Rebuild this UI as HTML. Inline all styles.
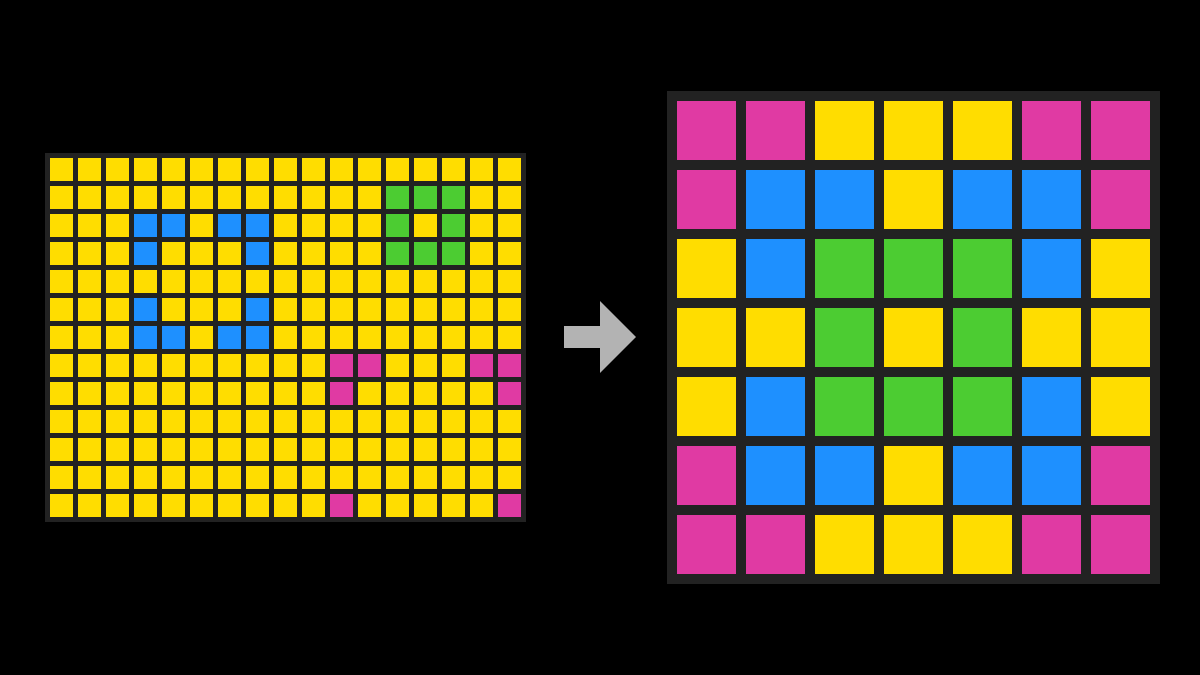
<!DOCTYPE html>
<html><head><meta charset="utf-8"><style>
html,body{margin:0;padding:0;background:#000;width:1200px;height:675px;overflow:hidden}
</style></head><body>
<svg width="1200" height="675" xmlns="http://www.w3.org/2000/svg" id="s">
<rect width="1200" height="675" fill="#000"/>
<rect x="45" y="153" width="481" height="369" fill="#222"/>
<rect x="667" y="91" width="493" height="493" fill="#222"/>
<polygon points="564,326 600,326 600,301 636,337 600,373 600,348 564,348" fill="#b3b3b3"/>
<g id="L"></g><g id="R"></g>
</svg>
<script>
var C={Y:"#FFDD00",B:"#1E90FF",G:"#4CCC32",M:"#E03AA3"};
var L=["YYYYYYYYYYYYYYYYY","YYYYYYYYYYYYGGGYY","YYYBBYBBYYYYGYGYY","YYYBYYYBYYYYGGGYY","YYYYYYYYYYYYYYYYY","YYYBYYYBYYYYYYYYY","YYYBBYBBYYYYYYYYY","YYYYYYYYYYMMYYYMM","YYYYYYYYYYMYYYYYM","YYYYYYYYYYYYYYYYY","YYYYYYYYYYYYYYYYY","YYYYYYYYYYYYYYYYY","YYYYYYYYYYMYYYYYM"];
var R=["MMYYYMM","MBBYBBM","YBGGGBY","YYGYGYY","YBGGGBY","MBBYBBM","MMYYYMM"];
var s="";
L.forEach(function(r,i){for(var j=0;j<r.length;j++)s+='<rect x="'+(50+j*28)+'" y="'+(158+i*28)+'" width="23" height="23" fill="'+C[r[j]]+'"/>';});
document.getElementById("L").innerHTML=s;s="";
R.forEach(function(r,i){for(var j=0;j<r.length;j++)s+='<rect x="'+(677+j*69)+'" y="'+(101+i*69)+'" width="59" height="59" fill="'+C[r[j]]+'"/>';});
document.getElementById("R").innerHTML=s;
</script>
</body></html>
